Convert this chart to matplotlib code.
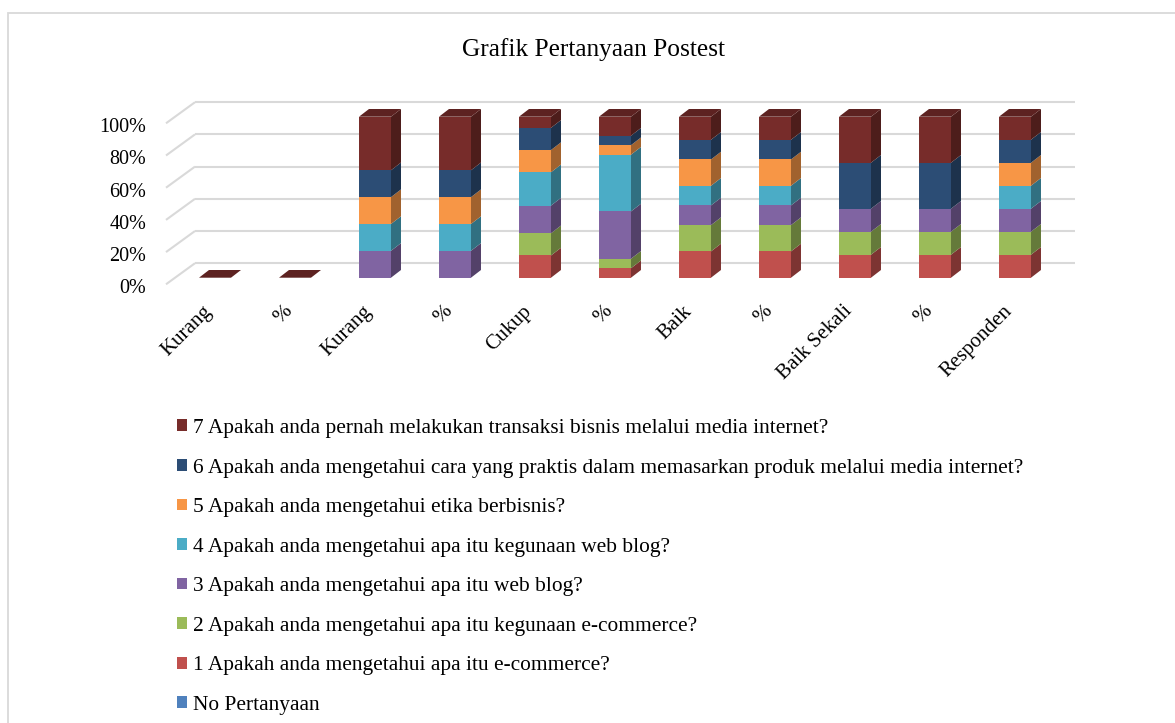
import numpy as np
import matplotlib
matplotlib.use("Agg")
import matplotlib.pyplot as plt
from matplotlib.patches import Polygon, Patch, Rectangle
from matplotlib.transforms import ScaledTranslation

plt.rcParams['font.family'] = ['Liberation Serif', 'DejaVu Serif']

# ---------------- data ----------------
categories = ['Kurang', '%', 'Kurang', '%', 'Cukup', '%', 'Baik', '%',
              'Baik Sekali', '%', 'Responden']
series_names = ['No Pertanyaan',
                '1 Apakah anda mengetahui apa itu e-commerce?',
                '2 Apakah anda mengetahui apa itu kegunaan e-commerce?',
                '3 Apakah anda mengetahui apa itu web blog?',
                '4 Apakah anda mengetahui apa itu kegunaan web blog?',
                '5 Apakah anda mengetahui etika berbisnis?',
                '6 Apakah anda mengetahui cara yang praktis dalam memasarkan produk melalui media internet?',
                '7 Apakah anda pernah melakukan transaksi bisnis melalui media internet?']
no_pertanyaan = [0, 0, 0, 0, 0, 0, 0, 0, 0, 0, 0]
q1 = [0, 0, 0, 0, 13.8, 5.9, 16.3, 16.3, 14.3, 14.3, 14.3]
q2 = [0, 0, 0, 0, 13.8, 5.9, 16.3, 16.3, 14.3, 14.3, 14.3]
q3 = [0, 0, 16.7, 16.7, 17.2, 29.4, 12.2, 12.2, 14.3, 14.3, 14.3]
q4 = [0, 0, 16.7, 16.7, 20.7, 35.3, 12.2, 12.2, 0, 0, 14.3]
q5 = [0, 0, 16.7, 16.7, 13.8, 5.9, 16.3, 16.3, 0, 0, 14.3]
q6 = [0, 0, 16.7, 16.7, 13.8, 5.9, 12.2, 12.2, 28.6, 28.6, 14.3]
q7 = [0, 0, 33.3, 33.3, 6.9, 11.8, 14.3, 14.3, 28.6, 28.6, 14.3]
yticks = [0, 20, 40, 60, 80, 100]
ytick_labels = ['0%', '20%', '40%', '60%', '80%', '100%']
title = 'Grafik Pertanyaan Postest'

colors = ['#4F81BD', '#C0504D', '#9BBB59', '#8064A2', '#4BACC6',
          '#F79646', '#2C4D75', '#772C2A']

series = [no_pertanyaan, q1, q2, q3, q4, q5, q6, q7]

# ---------------- figure ----------------
W, H = 1175, 723
fig = plt.figure(figsize=(W / 100, H / 100), dpi=100)

# border
fig.patches.append(Rectangle((8 / W, -0.1), 1.2, 1 - 13 / H + 0.1,
                             transform=fig.transFigure, fill=False,
                             edgecolor='#D9D9D9', linewidth=1.3))

# axes = front plane of bars
x0, x1 = 175, 1055
yb, yt = 277.7, 116.7
ax = fig.add_axes([x0 / W, 1 - yb / H, (x1 - x0) / W, (yb - yt) / H])
ax.set_xlim(-0.5, 10.5)
ax.set_ylim(0, 100)
for s in ax.spines.values():
    s.set_visible(False)
ax.patch.set_alpha(0)

pxx = (x1 - x0) / 11.0          # px per x unit
pxy = (yb - yt) / 100.0         # px per y unit
# offsets (px) -> data units
bdx, bdy = 20 / pxx, 14.5 / pxy      # back wall
ddx, ddy = 10 / pxx, 7.7 / pxy       # bar depth
fdx, fdy = -9 / pxx, -6.6 / pxy      # floor front edge

grid_c = '#D9D9D9'
for v in yticks:
    ax.plot([-0.5 + bdx, 10.5 + bdx], [v + bdy, v + bdy], color=grid_c,
            lw=1.5, clip_on=False, zorder=1, solid_capstyle='butt')
    ax.plot([-0.5 + fdx, -0.5 + bdx], [v + fdy, v + bdy], color=grid_c,
            lw=1.5, clip_on=False, zorder=1, solid_capstyle='butt')


def shade(c, f):
    rgb = np.array(matplotlib.colors.to_rgb(c))
    return tuple(rgb * f)


vals = np.array(series, dtype=float)   # (n_series, n_cat)
totals = vals.sum(axis=0)
bw = 0.4
for i in range(len(categories)):
    t = totals[i]
    shares = vals[:, i] / t * 100 if t > 0 else np.zeros(len(series))
    bottom = 0.0
    xl, xr = i - bw / 2, i + bw / 2
    top_color = colors[-1]
    for k in range(len(series)):
        h = shares[k]
        if h <= 0:
            continue
        c = colors[k]
        top_color = c
        front = Polygon([(xl, bottom), (xr, bottom), (xr, bottom + h), (xl, bottom + h)],
                        closed=True, facecolor=c, edgecolor='none', clip_on=False, zorder=3)
        side = Polygon([(xr, bottom), (xr + ddx, bottom + ddy), (xr + ddx, bottom + h + ddy),
                        (xr, bottom + h)], closed=True, facecolor=shade(c, 0.65),
                       edgecolor='none', clip_on=False, zorder=3)
        ax.add_patch(front)
        ax.add_patch(side)
        bottom += h
    topf = Polygon([(xl, bottom), (xr, bottom), (xr + ddx, bottom + ddy), (xl + ddx, bottom + ddy)],
                   closed=True, facecolor=shade(top_color, 0.78), edgecolor='none',
                   clip_on=False, zorder=4)
    ax.add_patch(topf)

# ticks
ax.set_yticks(yticks)
ax.set_yticklabels(ytick_labels, fontsize=14.5)
ax.tick_params(axis='y', length=0, pad=0)
for lab in ax.get_yticklabels():
    lab.set_transform(lab.get_transform() +
                      ScaledTranslation((-9 - 20) / 100, -8.6 / 100, fig.dpi_scale_trans))

ax.set_xticks(range(len(categories)))
ax.set_xticklabels(categories, fontsize=15, rotation=45, ha='right', va='center',
                   rotation_mode='anchor')
ax.tick_params(axis='x', length=0, pad=0)
for lab in ax.get_xticklabels():
    lab.set_transform(lab.get_transform() +
                      ScaledTranslation(-6 / 100, -31 / 100, fig.dpi_scale_trans))

fig.text(594 / W, 1 - 50 / H, title, ha='center', va='center', fontsize=18.3)

handles = [Patch(facecolor=colors[k], edgecolor='none') for k in range(len(series))][::-1]
labels = series_names[::-1]
fig.legend(handles, labels, loc='upper left', bbox_to_anchor=(177 / W, 1 - 419 / H),
           frameon=False, fontsize=15.4, handlelength=0.48, handleheight=0.48,
           handletextpad=0.28, labelspacing=0.96, borderpad=0, borderaxespad=0)

fig.savefig('out.png', dpi=100)
